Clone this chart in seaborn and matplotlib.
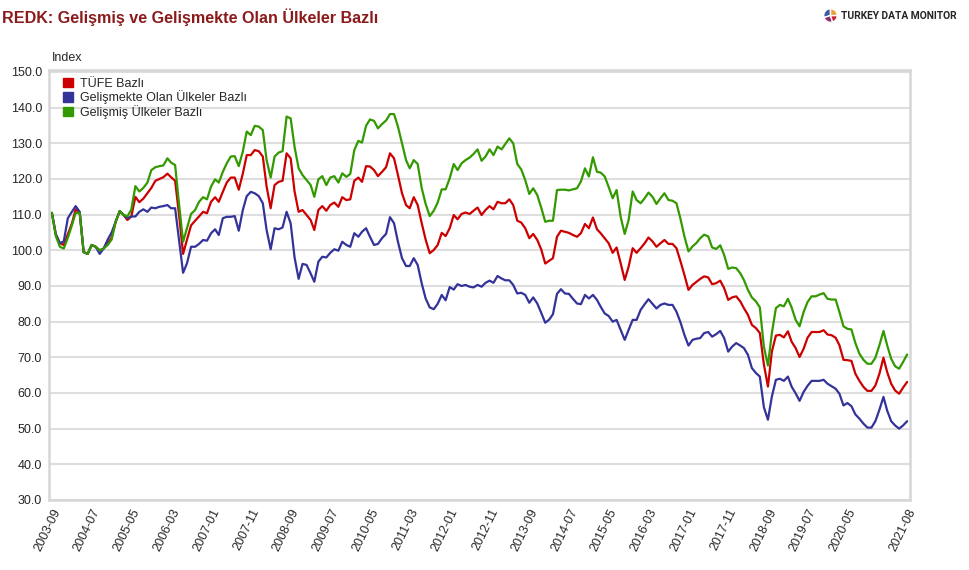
import matplotlib
matplotlib.use("Agg")
import matplotlib.pyplot as plt
from matplotlib.patches import Patch
import pandas as pd
import seaborn as sns

# monthly index values, 2003-09 .. 2021-08
months = pd.date_range("2003-09-01", periods=216, freq="MS")

tufe = [
    110.5, 104.5, 102, 101.5, 104.5, 107.5, 111.5, 110.5, 99.5, 99,
    101.5, 101, 100, 100.5, 102, 103.5, 108, 111, 110, 108.5,
    109.5, 115, 113.5, 114.5, 116, 117.5, 119.5, 120, 120.5, 121.5,
    120.5, 119.5, 110, 99, 103, 107, 108.3, 109.5, 110.8, 110.4,
    113.6, 114.9, 113.6, 116.4, 119, 120.4, 120.4, 117, 121.5, 126.7,
    126.7, 128.1, 127.8, 126.3, 117.9, 111.8, 118.3, 119.2, 119.5, 127.2,
    125.8, 116.5, 110.8, 111.3, 109.9, 108.5, 105.7, 111.3, 112.4, 111.1,
    112.7, 113.4, 112.2, 114.9, 114.1, 114.3, 119.5, 120.4, 119.2, 123.6,
    123.5, 122.5, 120.8, 122, 123.3, 127.2, 125.8, 121.1, 116, 112.7,
    111.8, 114.9, 112.7, 107.6, 103, 99.2, 100.1, 101.5, 104.9, 104,
    106.2, 109.9, 108.7, 110.2, 110.6, 110.2, 111.1, 112, 109.9, 111.3,
    112.4, 111.5, 113.6, 113.2, 113.2, 114.3, 112.7, 108.3, 107.8, 106.2,
    103.4, 104.6, 102.9, 100.3, 96.3, 97.1, 97.8, 103.8, 105.5, 105.2,
    104.9, 104.3, 103.8, 104.8, 107.4, 106.2, 109.2, 105.9, 104.8, 103.4,
    102, 99.3, 100.8, 96.4, 91.7, 95.4, 100.6, 99.3, 100.6, 102,
    103.6, 102.5, 101, 102, 102.9, 101.8, 101.8, 100.6, 96.9, 93.1,
    88.9, 90.3, 91.1, 92, 92.7, 92.4, 90.5, 90.8, 91.5, 89.4,
    86.1, 86.8, 87.1, 85.7, 83.8, 81.9, 79.1, 78.2, 76.8, 68,
    61.8, 71.6, 76.1, 76.3, 75.6, 77.3, 74.4, 72.6, 70.1, 72.4,
    75.5, 77.1, 77.1, 77.1, 77.6, 76.4, 76.2, 75.5, 73.4, 69.3,
    69.2, 69, 65.4, 63.4, 61.7, 60.6, 60.6, 62.1, 65.4, 69.9,
    65.9, 62.6, 60.7, 59.8, 61.5, 63.1,
]

gelismekte = [
    110.5, 104.5, 102, 102.5, 109, 110.8, 112.4, 110.8, 99.5, 99,
    101.5, 101, 99, 100.5, 103, 105, 108, 111, 110, 109,
    109.5, 109.5, 110.8, 111.5, 110.8, 112, 111.8, 112.2, 112.4, 112.7,
    111.8, 111.8, 103, 93.7, 96.4, 101, 101, 101.8, 102.9, 102.7,
    104.8, 105.9, 104.3, 109, 109.4, 109.4, 109.6, 105.5, 111.3, 115.2,
    116.4, 116, 115.2, 113.2, 105.7, 100.3, 106.2, 105.9, 106.4, 110.8,
    107.6, 98, 92, 96.2, 95.9, 93.5, 91.2, 96.8, 98.2, 98,
    99.3, 100.3, 99.9, 102.4, 101.5, 101, 104.8, 103.8, 105.2, 106.2,
    103.8, 101.5, 101.8, 103.4, 104.6, 109.3, 107.6, 102.4, 97.8, 95.6,
    95.6, 97.8, 95.9, 90.7, 86.5, 84, 83.5, 85, 87.5, 86,
    89.7, 89, 90.5, 90, 90.3, 89.8, 89.6, 90.3, 89.8, 90.9,
    91.5, 90.9, 92.8, 92.1, 91.6, 91.6, 90.3, 87.9, 88.1, 87.5,
    85.3, 86.8, 85.1, 82.5, 79.7, 80.6, 82.1, 87.8, 89.1, 87.9,
    87.8, 86.4, 85.1, 84.9, 87.5, 86.5, 87.5, 86.1, 84.2, 82.3,
    81.6, 80, 80.5, 77.7, 74.9, 77.7, 80.5, 80.5, 83.3, 84.9,
    86.3, 85, 83.7, 84.7, 85.1, 84.7, 84.7, 82.8, 79.8, 76.3,
    73.3, 74.9, 75.2, 75.4, 76.8, 77.1, 75.8, 76.5, 77.4, 75.4,
    71.6, 73, 74, 73.3, 72.6, 70.7, 67, 65.6, 64.6, 56,
    52.5, 59, 63.7, 64, 63.4, 64.6, 61.8, 59.9, 57.8, 60.3,
    62, 63.4, 63.4, 63.4, 63.7, 62.6, 61.9, 61.2, 59.8, 56.5,
    57.2, 56.3, 54, 52.8, 51.4, 50.3, 50.3, 52.1, 55.3, 58.9,
    55.1, 52.1, 50.9, 50, 50.9, 52.1,
]

gelismis = [
    110.5, 104, 101, 100.5, 103.5, 107, 110.5, 110.5, 99.5, 99,
    101.5, 101, 100, 100.5, 101.5, 103, 108, 111, 110, 109.5,
    111.5, 118, 116.5, 117.5, 119, 122.5, 123.3, 123.6, 123.8, 125.8,
    124.6, 123.9, 113, 102.4, 106.2, 110.2, 111.3, 113.6, 114.9, 114.3,
    117.9, 119.9, 119, 122, 124.4, 126.3, 126.4, 123.6, 127.7, 133.3,
    132.3, 134.9, 134.7, 133.7, 125.3, 120.4, 126.3, 127.4, 127.8, 137.5,
    137, 129, 123, 121.1, 119.7, 118.3, 115, 119.9, 120.8, 118.3,
    120.4, 120.8, 119, 121.6, 120.6, 121.4, 128.1, 130.7, 130.2, 134.9,
    136.7, 136.3, 134.2, 135.4, 136.4, 138.2, 138.2, 134.7, 130, 125.3,
    123, 125.3, 124.2, 117.4, 113, 109.6, 111.1, 113.4, 117.1, 117.1,
    120.2, 124.2, 122.5, 124.4, 125.3, 126, 127, 128.3, 125.1, 126.3,
    128.3, 126.7, 129.1, 128.3, 129.8, 131.4, 130, 124.2, 122.7, 119.7,
    115.8, 117.4, 115.5, 112, 108, 108.3, 108.3, 116.9, 117, 117,
    116.8, 117.1, 117.4, 119.3, 123, 120.7, 126.1, 122, 121.8, 120.7,
    117.8, 114.6, 116.9, 109.4, 104.6, 108.5, 116.5, 114.1, 113.2, 114.6,
    116.2, 115, 113, 114.6, 116, 114.1, 113.9, 113.2, 108.8, 103.9,
    99.7, 101.1, 102, 103.4, 104.4, 103.9, 100.8, 100.4, 101.4, 98.7,
    94.8, 95.2, 95, 93.6, 91.7, 88.9, 86.8, 85.7, 84, 73,
    67.7, 76.8, 83.8, 84.7, 84.3, 86.4, 84, 80.5, 78.7, 82.7,
    85.5, 87.1, 87.1, 87.6, 88, 86.4, 86.2, 86.2, 82.7, 78.7,
    78, 77.8, 74, 71, 69.3, 68.2, 68.2, 69.9, 73.4, 77.4,
    73.4, 69.6, 67.5, 66.8, 68.7, 70.8,
]

series_names = ["TÜFE Bazlı", "Gelişmekte Olan Ülkeler Bazlı", "Gelişmiş Ülkeler Bazlı"]
colors = ["#cc0000", "#333399", "#339900"]
y_ticks = [30, 40, 50, 60, 70, 80, 90, 100, 110, 120, 130, 140, 150]

df = pd.concat([
    pd.DataFrame({"date": months, "value": tufe, "series": series_names[0]}),
    pd.DataFrame({"date": months, "value": gelismekte, "series": series_names[1]}),
    pd.DataFrame({"date": months, "value": gelismis, "series": series_names[2]}),
])

sns.set_style("white")
plt.rcParams["font.family"] = ["Liberation Sans", "DejaVu Sans"]

fig = plt.figure(figsize=(9.7, 5.7), dpi=100)
ax = fig.add_axes([49 / 970, 1 - 500 / 570, (910 - 49) / 970, (500 - 70) / 570])

sns.lineplot(
    data=df, x="date", y="value", hue="series",
    palette=dict(zip(series_names, colors)), hue_order=series_names,
    linewidth=1.6, legend=False, ax=ax,
)

ax.set_xlim(months[0] - pd.Timedelta(days=22), months[-1] + pd.Timedelta(days=22))
ax.set_ylim(30, 150.56)
ax.set_yticks(y_ticks)
ax.set_yticklabels([f"{v:.1f}" for v in y_ticks], fontsize=9)
ax.yaxis.grid(True, color="#dedede", linewidth=1.5)
ax.set_axisbelow(True)

# every 10th month up to 2020-05, then the last month
tick_dates = list(months[:201:10]) + [months[-1]]
ax.set_xticks(tick_dates)
ax.set_xticklabels([d.strftime("%Y-%m") for d in tick_dates], rotation=64,
                   ha="right", rotation_mode="anchor", fontsize=9)
ax.tick_params(axis="both", length=0, pad=5)
ax.set_xlabel("")
ax.set_ylabel("")
for side in ["left", "right", "top", "bottom"]:
    ax.spines[side].set_color("#d6d6d6")
    ax.spines[side].set_linewidth(1.8)

handles = [Patch(facecolor=c, edgecolor=c) for c in colors]
ax.legend(handles, series_names, loc="upper left", bbox_to_anchor=(0.008, 1.0),
          frameon=False, fontsize=9, handlelength=0.8, handleheight=0.8,
          handletextpad=0.5, labelspacing=0.05, borderaxespad=0.2)

fig.text(52 / 970, 1 - 58 / 570, "Index", fontsize=9, va="center", ha="left")
fig.text(2 / 970, 1 - 17 / 570, "REDK: Gelişmiş ve Gelişmekte Olan Ülkeler Bazlı",
         fontsize=11.6, fontweight="bold", color="#8b1a1a", va="center", ha="left")

# logo
logo = fig.add_axes([822 / 970, 1 - 24 / 570, 17 / 970, 17 / 570])
logo.pie([30, 25, 20, 25], colors=["#3a5ba0", "#8e2d6b", "#c8202f", "#e8a23a"],
         startangle=90)
logo.set_aspect("equal")
fig.text(841 / 970, 1 - 16 / 570, "TURKEY DATA MONITOR", fontsize=7.4,
         fontweight="bold", va="center", ha="left", family="Roboto")

fig.savefig("out.png", dpi=100)
